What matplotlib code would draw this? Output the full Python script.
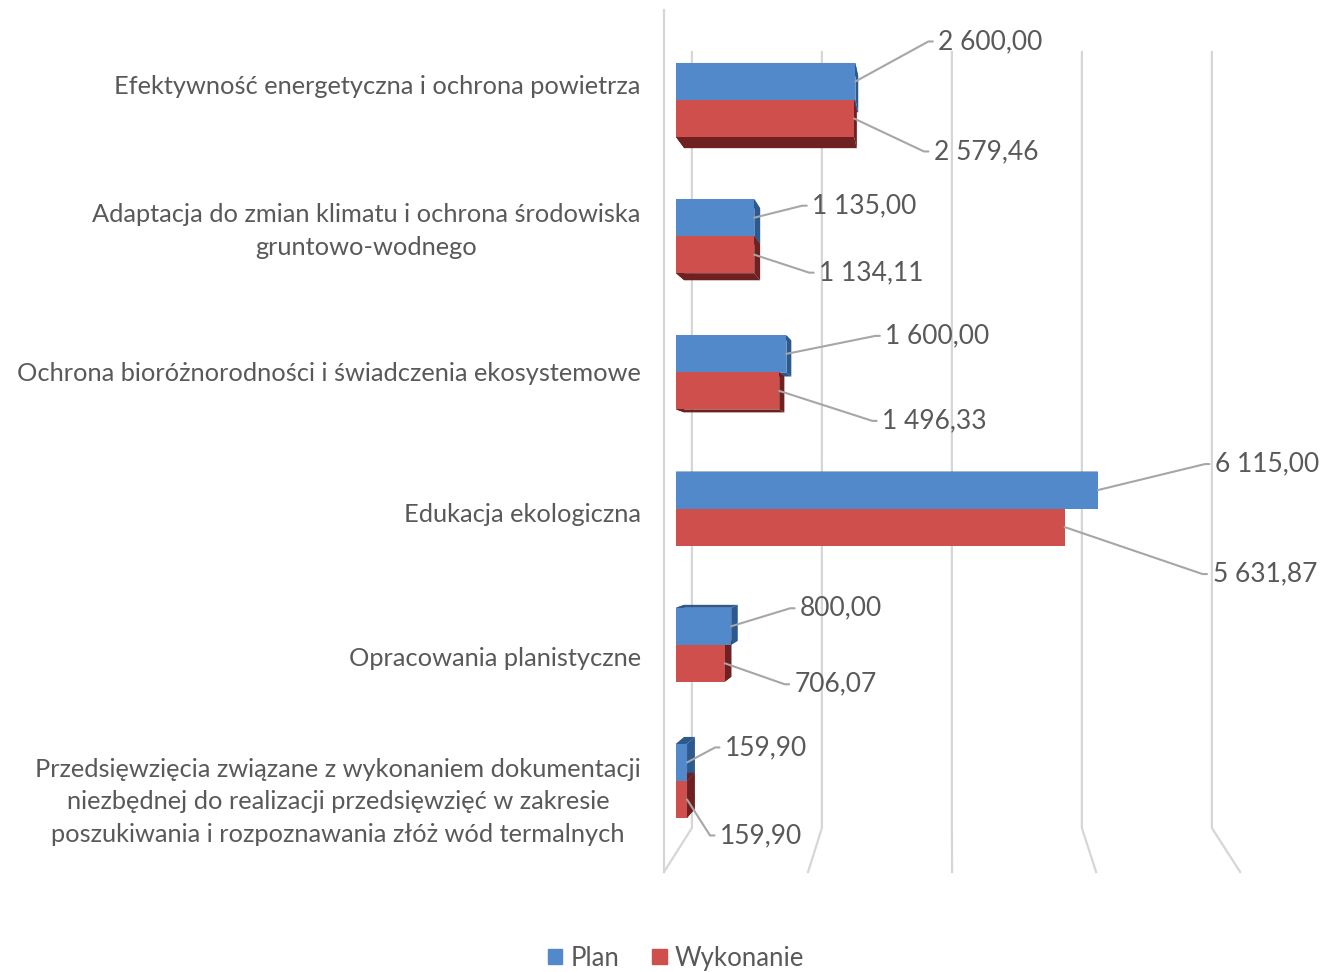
import matplotlib
matplotlib.use('Agg')
import matplotlib.pyplot as plt
from matplotlib.patches import Patch, Polygon
import numpy as np

plt.rcParams['font.family'] = ['Lato', 'DejaVu Sans']

categories = ['Efektywność energetyczna i ochrona powietrza',
              'Adaptacja do zmian klimatu i ochrona środowiska\ngruntowo-wodnego',
              'Ochrona bioróżnorodności i świadczenia ekosystemowe',
              'Edukacja ekologiczna',
              'Opracowania planistyczne',
              'Przedsięwzięcia związane z wykonaniem dokumentacji\n'
              'niezbędnej do realizacji przedsięwzięć w zakresie\n'
              'poszukiwania i rozpoznawania złóż wód termalnych']
plan = [2600.00, 1135.00, 1600.00, 6115.00, 800.00, 159.90]
wykonanie = [2579.46, 1134.11, 1496.33, 5631.87, 706.07, 159.90]
grid_vals = [0, 2000, 4000, 6000, 8000]

BLUE, BLUE_D = '#5289cb', '#2d5a8e'
RED, RED_D = '#cf4f4c', '#6e2120'
GRAY = '#595959'
GRID = '#d6d6d6'

# pixel layout -> data units
PX = 0.069          # px per unit on x
ROW = 136.2         # px between categories

def fmt(v):
    return f'{v:,.2f}'.replace(',', ' ').replace('.', ',')

fig = plt.figure(figsize=(13.2, 9.72), dpi=100)
x_lo, x_hi = -250, 9050
left_px = 676 + x_lo * PX
width_px = (x_hi - x_lo) * PX
ax = fig.add_axes([left_px / 1320, 1 - 900 / 972, width_px / 1320, 900 / 972])
ax.set_xlim(x_lo, x_hi)
ax.set_ylim(5.874, -0.734)
for s in ax.spines.values():
    s.set_visible(False)
ax.set_xticks([])

# perspective
xv, yv = (950 - 676) / PX, (510 - 100) / ROW
f_bar = 0.03
f_wall, s_floor = 0.058, 1.108
wall_top, wall_bot, floor_y, top_y = (52 - 100) / ROW, (828 - 100) / ROW, (872 - 100) / ROW, (10 - 100) / ROW

# walls / gridlines
for v in grid_vals:
    bx = xv + (v - xv) * (1 - f_wall)
    fx = xv + (bx - xv) * s_floor
    ax.plot([bx, bx, fx], [wall_top, wall_bot, floor_y], color=GRID, lw=1.6, zorder=1)
fx0 = xv + (xv + (0 - xv) * (1 - f_wall) - xv) * s_floor
ax.plot([fx0, fx0], [top_y, floor_y], color=GRID, lw=1.6, zorder=1)

h = 37 / ROW
y = np.arange(len(categories))

def depth(x0, x1, y0, y1, dark):
    front = np.array([[x0, y0], [x1, y0], [x1, y1], [x0, y1]])
    back = np.array([xv, yv]) + (front - np.array([xv, yv])) * (1 - f_bar)
    for i in range(4):
        j = (i + 1) % 4
        ax.add_patch(Polygon([front[i], front[j], back[j], back[i]], closed=True,
                             fc=dark, ec='none', zorder=2))

for i in range(len(categories)):
    depth(0, plan[i], y[i] - h, y[i], BLUE_D)
    depth(0, wykonanie[i], y[i], y[i] + h, RED_D)

ax.barh(y - h / 2, plan, height=h, color=BLUE, zorder=3)
ax.barh(y + h / 2, wykonanie, height=h, color=RED, zorder=3)

# value labels: (dx, dy) in pixels from bar end, dy upwards
plan_off = [(83, 40), (58, 12), (99, 18), (117, 26), (69, 18), (38, 15)]
wyk_off = [(80, -33), (65, -18), (103, -30), (148, -47), (70, -21), (33, -36)]
arrow = dict(arrowstyle='-', color='#a6a6a6', lw=1.5, shrinkA=2, shrinkB=0,
             relpos=(0, 0.5), connectionstyle='arc,angleA=180,armA=10,angleB=0,armB=0,rad=0')
for i in range(len(categories)):
    ax.annotate(fmt(plan[i]), xy=(plan[i], y[i] - h / 2), xytext=plan_off[i],
                textcoords='offset pixels', ha='left', va='center', fontsize=19,
                color=GRAY, arrowprops=arrow, annotation_clip=False, zorder=4)
    ax.annotate(fmt(wykonanie[i]), xy=(wykonanie[i], y[i] + h / 2), xytext=wyk_off[i],
                textcoords='offset pixels', ha='left', va='center', fontsize=19,
                color=GRAY, arrowprops=arrow, annotation_clip=False, zorder=4)

# category labels (slightly spread by perspective)
lab_shift = np.array([-15, -12, -1, 4, 12, 14]) / ROW
ax.set_yticks(y + lab_shift)
ax.set_yticklabels(categories, fontsize=18.3, color=GRAY, multialignment='center',
                   linespacing=1.5)
ax.tick_params(axis='y', length=0, pad=13)

handles = [Patch(color=BLUE, label='Plan'), Patch(color=RED, label='Wykonanie')]
fig.legend(handles=handles, loc='center', bbox_to_anchor=(676 / 1320, 1 - 958 / 972), ncol=2,
           frameon=False, fontsize=18.5, labelcolor=GRAY, handlelength=0.55, handleheight=0.55,
           handletextpad=0.3, columnspacing=1.3)

fig.savefig('out.png', dpi=100)
